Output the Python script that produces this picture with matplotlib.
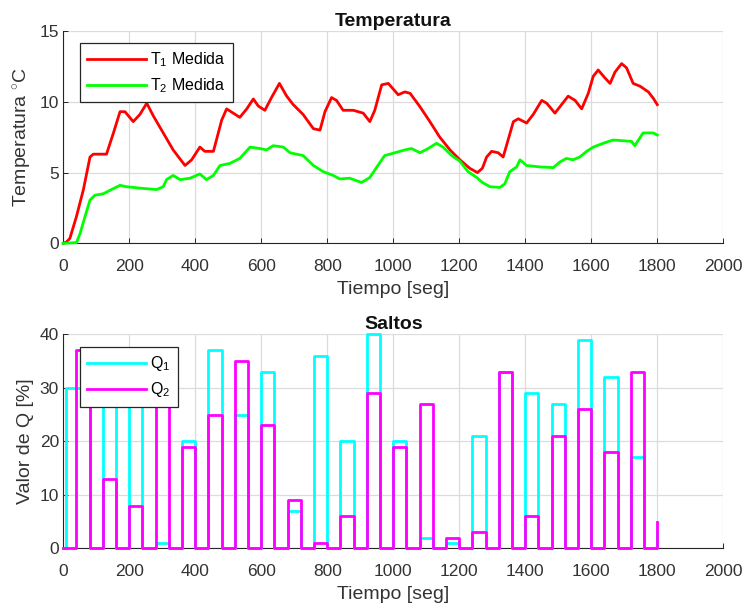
import numpy as np
import matplotlib
matplotlib.use('Agg')
import matplotlib.pyplot as plt

plt.rcParams['font.family'] = ['Liberation Sans', 'DejaVu Sans']
plt.rcParams['mathtext.fontset'] = 'custom'
plt.rcParams['mathtext.rm'] = 'Liberation Sans'
plt.rcParams['mathtext.it'] = 'Liberation Sans'

t_t1 = [0, 10, 20, 40, 61, 81, 91, 131, 152, 172, 187, 212, 232, 253, 273, 303, 333, 369, 389, 414,
        429, 455, 480, 495, 515, 535, 556, 576, 591, 611, 631, 655, 677, 697, 727, 758, 778, 793, 813,
        828, 848, 879, 909, 929, 944, 965, 985, 1015, 1035, 1051, 1081, 1111, 1141, 1172, 1202, 1232,
        1255, 1270, 1283, 1298, 1318, 1333, 1348, 1364, 1379, 1404, 1424, 1450, 1465, 1490, 1510, 1530,
        1551, 1571, 1591, 1606, 1621, 1641, 1657, 1672, 1692, 1707, 1727, 1748, 1773, 1788, 1800]
T1 = [0.0, 0.1, 0.35, 1.9, 3.8, 6.1, 6.3, 6.3, 7.8, 9.3, 9.3, 8.6, 9.1, 9.9, 9.0, 7.8, 6.6, 5.5, 5.9, 6.8,
      6.5, 6.5, 8.7, 9.5, 9.2, 8.9, 9.5, 10.2, 9.7, 9.4, 10.3, 11.3, 10.4, 9.8, 9.1, 8.1, 8.0, 9.3, 10.3,
      10.1, 9.4, 9.4, 9.2, 8.6, 9.4, 11.2, 11.3, 10.5, 10.7, 10.6, 9.65, 8.6, 7.5, 6.6, 5.9, 5.3,
      5.0, 5.3, 6.1, 6.5, 6.4, 6.1, 7.3, 8.6, 8.8, 8.5, 9.1, 10.1, 9.9, 9.2, 9.8, 10.4,
      10.1, 9.5, 10.6, 11.8, 12.25, 11.7, 11.3, 12.1, 12.7, 12.4, 11.3, 11.1, 10.7, 10.25, 9.8]

t_t2 = [0, 40, 51, 66, 81, 96, 121, 146, 172, 192, 232, 283, 303, 313, 333, 354, 384, 414, 434, 455,
        475, 505, 535, 566, 596, 616, 636, 667, 687, 727, 758, 788, 818, 838, 868, 904, 929, 949, 974,
        1005, 1035, 1055, 1081, 1106, 1131, 1151, 1177, 1202, 1227, 1253, 1270, 1293, 1323, 1338, 1353,
        1374, 1384, 1404, 1444, 1485, 1505, 1525, 1545, 1565, 1586, 1606, 1636, 1666, 1697, 1722, 1732,
        1757, 1788, 1800]
T2 = [0.0, 0.05, 0.7, 1.9, 3.06, 3.4, 3.5, 3.8, 4.1, 4.0, 3.9, 3.8, 4.0, 4.5, 4.8, 4.5, 4.6, 4.9, 4.5, 4.8,
      5.5, 5.65, 6.0, 6.8, 6.7, 6.6, 6.9, 6.8, 6.4, 6.2, 5.5, 5.06, 4.8, 4.55, 4.6, 4.3, 4.65, 5.35, 6.2,
      6.4, 6.6, 6.7, 6.4, 6.7, 7.07, 6.8, 6.2, 5.8, 5.06, 4.65, 4.3, 4.0, 3.95, 4.2, 5.06,
      5.4, 5.9, 5.5, 5.4, 5.35, 5.75, 6.0, 5.9, 6.1, 6.5, 6.8, 7.07, 7.3, 7.25, 7.2, 6.9,
      7.8, 7.8, 7.65]

# saltos de Q (escalones)
t_q = [0, 7, 40, 80, 120, 160, 200, 240, 280, 320, 360, 400, 440, 480, 520, 560, 600, 640, 680, 720,
       760, 800, 840, 880, 920, 960, 1000, 1040, 1080, 1120, 1160, 1200, 1240, 1280, 1320, 1360, 1400,
       1440, 1480, 1520, 1560, 1600, 1640, 1680, 1720, 1760, 1800]
Q1 = [0, 30, 30, 0, 32, 0, 29, 0, 1, 0, 20, 0, 37, 0, 25, 0, 33, 0, 7, 0,
      36, 0, 20, 0, 40, 0, 20, 0, 2, 0, 1, 0, 21, 0, 33, 0, 29,
      0, 27, 0, 39, 0, 32, 0, 17, 0, 3]
Q2 = [0, 0, 37, 0, 13, 0, 8, 0, 30, 0, 19, 0, 25, 0, 35, 0, 23, 0, 9, 0,
      1, 0, 6, 0, 29, 0, 19, 0, 27, 0, 2, 0, 3, 0, 33, 0, 6,
      0, 21, 0, 26, 0, 18, 0, 33, 0, 5]

xticks = np.arange(0, 2001, 200)
axcol = '#262626'
gridcol = '#dcdcdc'


def style(ax, yticks):
    ax.set_xlim(0, 2000)
    ax.set_ylim(yticks[0], yticks[-1])
    ax.set_xticks(xticks)
    ax.set_yticks(yticks)
    ax.grid(True, color=gridcol, lw=0.9)
    ax.set_axisbelow(True)
    for s in ['top', 'right']:
        ax.spines[s].set_visible(False)
    for s in ['left', 'bottom']:
        ax.spines[s].set_color(axcol)
        ax.spines[s].set_linewidth(0.8)
    ax.tick_params(direction='in', length=3.5, width=0.7, color=axcol,
                   labelcolor='#333333', labelsize=12.5)
    ax.tick_params(axis='x', pad=11)
    ax.tick_params(axis='y', pad=3)


fig = plt.figure(figsize=(7.47, 6.10), dpi=100)
ax1 = fig.add_axes([0.0847, 0.6011, 0.8835, 0.348])
ax2 = fig.add_axes([0.0847, 0.1011, 0.8835, 0.3508])

ax1.plot(t_t1, T1, color='#ff0000', lw=2, label='T$_1$ Medida', clip_on=False, zorder=3)
ax1.plot(t_t2, T2, color='#00ff00', lw=2, label='T$_2$ Medida', clip_on=False, zorder=3)
style(ax1, [0, 5, 10, 15])
ax1.set_title('Temperatura', fontsize=14, fontweight='bold', color='#111111', pad=3.5)
ax1.set_xlabel('Tiempo [seg]', fontsize=14, color='#333333', labelpad=5.5)
ax1.set_ylabel('Temperatura $^{\\circ}$C', fontsize=14, color='#333333', labelpad=4)

ax2.plot(t_q, Q1, color='#00ffff', lw=2, drawstyle='steps-post', label='Q$_1$', clip_on=False, zorder=3)
ax2.plot(t_q, Q2, color='#ff00ff', lw=2, drawstyle='steps-post', label='Q$_2$', clip_on=False, zorder=3)
style(ax2, [0, 10, 20, 30, 40])
ax2.set_title('Saltos', fontsize=14, fontweight='bold', color='#111111', pad=3.5)
ax2.set_xlabel('Tiempo [seg]', fontsize=14, color='#333333', labelpad=5.5)
ax2.set_ylabel('Valor de Q [%]', fontsize=14, color='#333333', labelpad=4)

for ax, top in [(ax1, 0.943), (ax2, 0.9407)]:
    leg = ax.legend(loc='upper left', bbox_to_anchor=(0.0253, top), borderaxespad=0,
                    fontsize=11.5, handlelength=3.7, handletextpad=0.25, borderpad=0.45,
                    labelspacing=0.45, fancybox=False, framealpha=1)
    leg.get_frame().set_edgecolor('#262626')
    leg.get_frame().set_linewidth(0.9)
    leg.set_zorder(5)

fig.savefig('out.png', dpi=100)
